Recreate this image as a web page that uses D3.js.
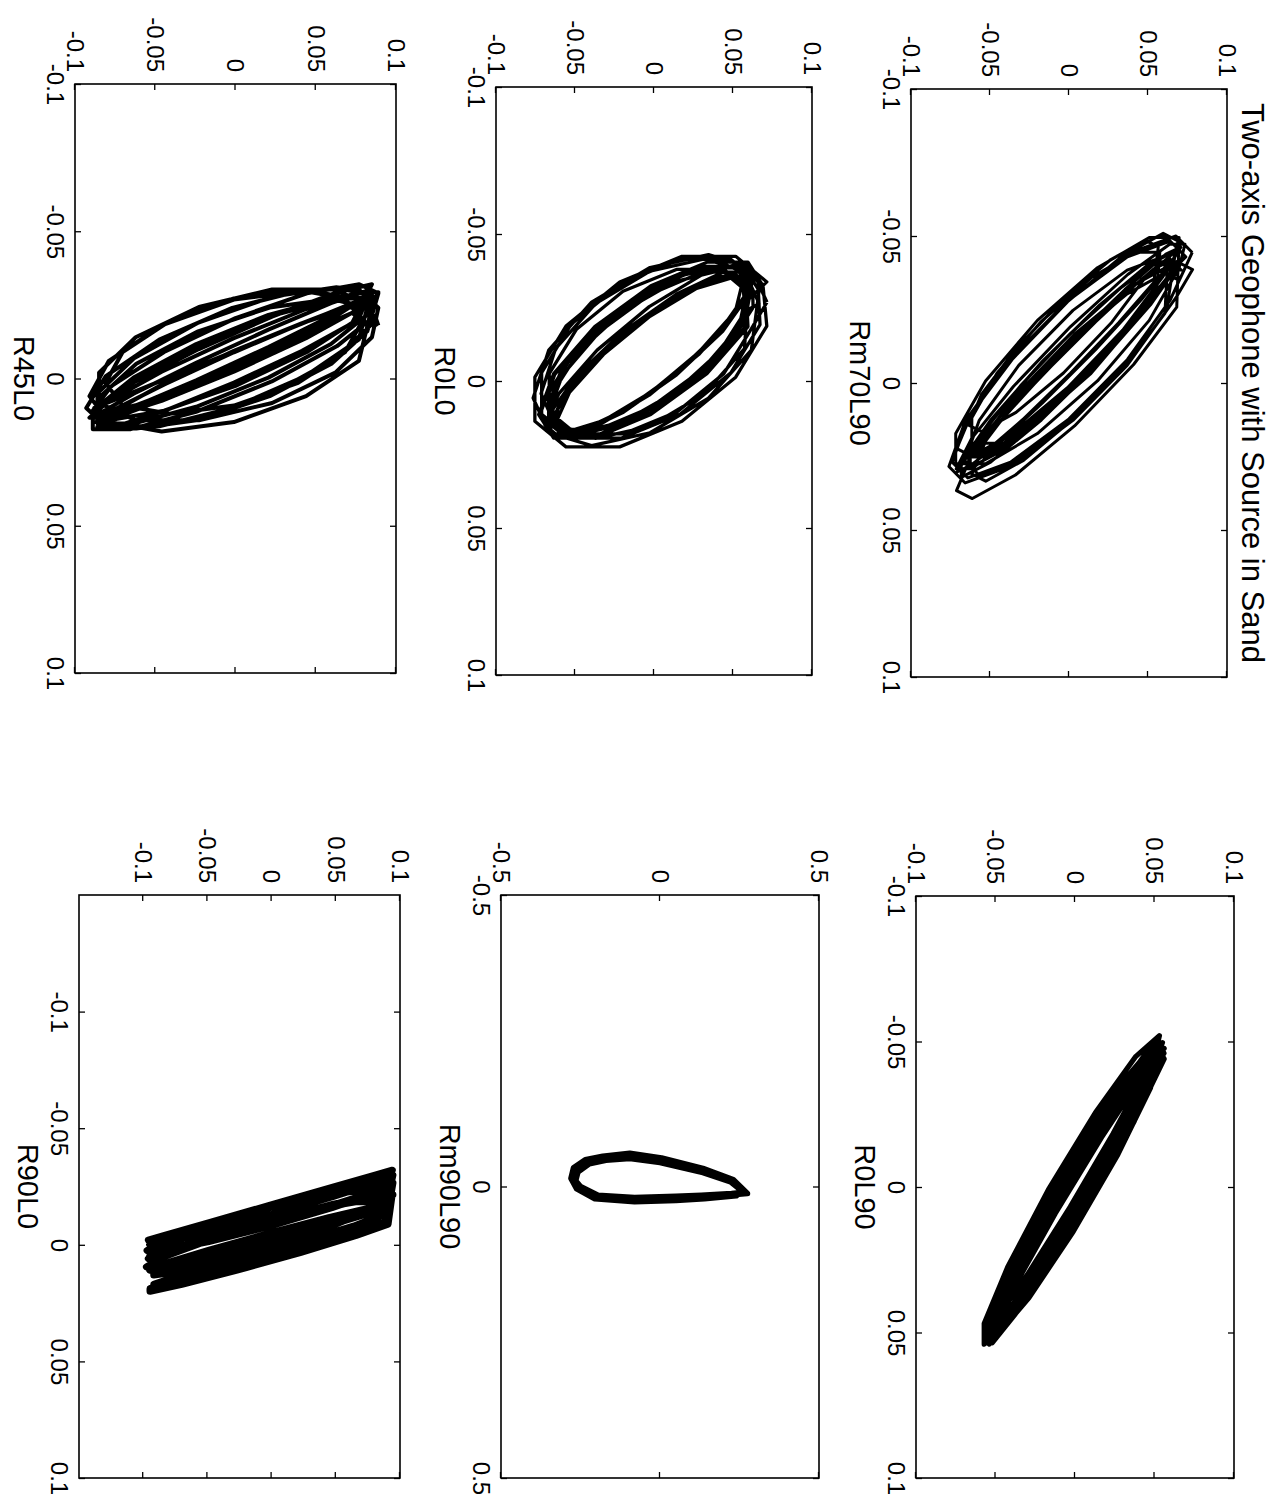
<!DOCTYPE html>
<html>
<head>
<meta charset="utf-8">
<script src="https://cdn.jsdelivr.net/npm/d3@7"></script>
<style>
  body { margin: 0; background: #fff; }
  svg { display: block; }
</style>
</head>
<body>
<svg id="fig" width="1275" height="1510"></svg>
<script>
// Two-axis geophone records: channel 1 (x) plotted against channel 2 (y).
// Each record is one continuous trace running through many cycles.

const titleText = "Two-axis Geophone with Source in Sand";

const ticks01 = [-0.1, -0.05, 0, 0.05, 0.1];
const tickLabels01 = ["-0.1", "-0.05", "0", "0.05", "0.1"];
const ticks05 = [-0.5, 0, 0.5];
const tickLabels05 = ["-0.5", "0", "0.5"];

// Rm70L90
const rm70l90_x = [
  -0.0444,-0.050,-0.0444,-0.029,-0.008,0.013,0.0284,0.034,0.0284,0.013,-0.008,-0.029,
  -0.0386,-0.0413,-0.0333,-0.0166,0.0043,0.0238,0.0366,0.0393,0.0313,0.0146,-0.0063,-0.0258,
  -0.0495,-0.0495,-0.0392,-0.0213,-0.0007,0.0172,0.0275,0.0275,0.0172,-0.0007,-0.0213,-0.0392,
  -0.0472,-0.0472,-0.0369,-0.0192,0.0012,0.0189,0.0292,0.0292,0.0189,0.0012,-0.0192,-0.0369,
  -0.0483,-0.0509,-0.0433,-0.0276,-0.008,0.0103,0.0223,0.0249,0.0173,0.0016,-0.018,-0.0363,
  -0.0462,-0.0438,-0.0318,-0.0134,0.0065,0.0224,0.0302,0.0278,0.0158,-0.0026,-0.0225,-0.0384,
  -0.0384,-0.0434,-0.0384,-0.0247,-0.006,0.0127,0.0264,0.0314,0.0264,0.0127,-0.006,-0.0247,
  -0.045,-0.040,-0.0265,-0.008,0.0105,0.024,0.029,0.024,0.0105,-0.008,-0.0265,-0.040,
  -0.035,-0.0374,-0.0303,-0.0157,0.0027,0.0197,0.031,0.0334,0.0263,0.0117,-0.0067,-0.0237,
  -0.0421,-0.0352,-0.0208,-0.0027,0.0143,0.0255,0.0281,0.0212,0.0068,-0.0113,-0.0283,-0.0395,
  -0.0412,-0.0412,-0.0323,-0.0169,0.0009,0.0163,0.0252,0.0252,0.0163,0.0009,-0.0169,-0.0323,
  -0.0445,-0.0445,-0.0358,-0.0207,-0.0033,0.0118,0.0205,0.0205,0.0118,-0.0033,-0.0207,-0.0358,
  -0.0409,-0.0388,-0.0285,-0.0126,0.0045,0.0182,0.0249,0.0228,0.0125,-0.0034,-0.0205,-0.0342,
  -0.0463,-0.0485,-0.042,-0.0286,-0.0117,0.004,0.0143,0.0165,0.010,-0.0034,-0.0203,-0.036,
  -0.0461,-0.0409,-0.0266,-0.007,0.0126,0.0269,0.0321,0.0269,0.0126,-0.007,-0.0266,-0.0409,
  -0.0429,-0.0483,-0.0429,-0.0282,-0.008,0.0122,0.0269,0.0323,0.0269,0.0122,-0.008,-0.0282,
  -0.0444
];
const rm70l90_y = [
  0.078,0.0677,0.0395,0.001,-0.0375,-0.0657,-0.076,-0.0657,-0.0375,0.001,0.0395,0.0677,
  0.0782,0.0682,0.0409,0.0035,-0.0339,-0.0612,-0.0712,-0.0612,-0.0339,0.0035,0.0409,0.0682,
  0.0697,0.0508,0.018,-0.020,-0.0528,-0.0717,-0.0717,-0.0528,-0.020,0.018,0.0508,0.0697,
  0.0734,0.0637,0.0372,0.001,-0.0352,-0.0617,-0.0714,-0.0617,-0.0352,0.001,0.0372,0.0637,
  0.069,0.0596,0.034,-0.001,-0.036,-0.0616,-0.071,-0.0616,-0.036,-0.001,0.034,0.0596,
  0.0708,0.0613,0.0354,0,-0.0354,-0.0613,-0.0708,-0.0613,-0.0354,0,0.0354,0.0613,
  0.071,0.0618,0.0368,0.0025,-0.0318,-0.0568,-0.066,-0.0568,-0.0318,0.0025,0.0368,0.0618,
  0.0675,0.0499,0.0196,-0.0156,-0.0459,-0.0635,-0.0635,-0.0459,-0.0156,0.0196,0.0499,0.0675,
  0.0695,0.0607,0.0368,0.004,-0.0288,-0.0527,-0.0615,-0.0527,-0.0288,0.004,0.0368,0.0607,
  0.0625,0.0457,0.0168,-0.0168,-0.0457,-0.0625,-0.0625,-0.0457,-0.0168,0.0168,0.0457,0.0625,
  0.0641,0.0556,0.0326,0.001,-0.0306,-0.0536,-0.0621,-0.0536,-0.0306,0.001,0.0326,0.0556,
  0.0575,0.0416,0.014,-0.018,-0.0456,-0.0615,-0.0615,-0.0456,-0.018,0.014,0.0416,0.0575,
  0.0618,0.0537,0.0314,0.001,-0.0294,-0.0517,-0.0598,-0.0517,-0.0294,0.001,0.0314,0.0537,
  0.0565,0.0485,0.0265,-0.0035,-0.0335,-0.0555,-0.0635,-0.0555,-0.0335,-0.0035,0.0265,0.0485,
  0.0702,0.0516,0.0195,-0.0175,-0.0496,-0.0682,-0.0682,-0.0496,-0.0175,0.0195,0.0516,0.0702,
  0.0739,0.064,0.037,0,-0.037,-0.064,-0.0739,-0.064,-0.037,0,0.037,0.064,
  0.078
];

// R0L90
const r0l90_x = [
  -0.0473,-0.0473,-0.0341,-0.0112,0.0152,0.0381,0.0513,0.0513,0.0381,0.0152,-0.0112,-0.0341,
  -0.047,-0.0404,-0.0225,0.002,0.0265,0.0444,0.051,0.0444,0.0265,0.002,-0.0225,-0.0404,
  -0.0475,-0.0444,-0.0288,-0.005,0.0208,0.0414,0.0515,0.0484,0.0328,0.009,-0.0168,-0.0374,
  -0.0467,-0.0374,-0.0178,0.0069,0.0299,0.0452,0.0487,0.0394,0.0198,-0.0049,-0.0279,-0.0432,
  -0.052,-0.0449,-0.0255,0.001,0.0275,0.0469,0.054,0.0469,0.0275,0.001,-0.0255,-0.0449,
  -0.0425,-0.0396,-0.0253,-0.0034,0.0203,0.0392,0.0485,0.0456,0.0313,0.0094,-0.0143,-0.0332,
  -0.0444,-0.0444,-0.0322,-0.0112,0.0132,0.0342,0.0464,0.0464,0.0342,0.0132,-0.0112,-0.0322,
  -0.0496,-0.0395,-0.0183,0.0083,0.0333,0.0499,0.0536,0.0435,0.0223,-0.0043,-0.0293,-0.0459,
  -0.046,-0.0393,-0.021,0.004,0.029,0.0473,0.054,0.0473,0.029,0.004,-0.021,-0.0393,
  -0.049,-0.0426,-0.025,-0.001,0.023,0.0406,0.047,0.0406,0.023,-0.001,-0.025,-0.0426,
  -0.0476,-0.0377,-0.0169,0.0092,0.0337,0.050,0.0536,0.0437,0.0229,-0.0032,-0.0277,-0.044,
  -0.0485,-0.0454,-0.0302,-0.0068,0.0184,0.0386,0.0485,0.0454,0.0302,0.0068,-0.0184,-0.0386,
  -0.0473
];
const r0l90_y = [
  0.055,0.0475,0.027,-0.001,-0.029,-0.0495,-0.057,-0.0495,-0.029,-0.001,0.027,0.0475,
  0.0512,0.0372,0.013,-0.015,-0.0392,-0.0532,-0.0532,-0.0392,-0.015,0.013,0.0372,0.0512,
  0.054,0.0466,0.0265,-0.001,-0.0285,-0.0486,-0.056,-0.0486,-0.0285,-0.001,0.0265,0.0466,
  0.0492,0.0358,0.0125,-0.0145,-0.0378,-0.0512,-0.0512,-0.0378,-0.0145,0.0125,0.0358,0.0492,
  0.0531,0.0383,0.0128,-0.0168,-0.0423,-0.0571,-0.0571,-0.0423,-0.0168,0.0128,0.0383,0.0531,
  0.050,0.0433,0.025,0,-0.025,-0.0433,-0.050,-0.0433,-0.025,0,0.025,0.0433,
  0.050,0.043,0.024,-0.002,-0.028,-0.047,-0.054,-0.047,-0.028,-0.002,0.024,0.043,
  0.055,0.040,0.014,-0.016,-0.042,-0.057,-0.057,-0.042,-0.016,0.014,0.040,0.055,
  0.056,0.0486,0.0285,0.001,-0.0265,-0.0466,-0.054,-0.0466,-0.0265,0.001,0.0285,0.0486,
  0.049,0.0419,0.0225,-0.004,-0.0305,-0.0499,-0.057,-0.0499,-0.0305,-0.004,0.0225,0.0419,
  0.0561,0.0416,0.0165,-0.0125,-0.0376,-0.0521,-0.0521,-0.0376,-0.0125,0.0165,0.0416,0.0561,
  0.051,0.0438,0.024,-0.003,-0.030,-0.0498,-0.057,-0.0498,-0.030,-0.003,0.024,0.0438,
  0.055
];

// R0L0
const r0l0_x = [
  -0.0268,-0.0386,-0.043,-0.0386,-0.0268,-0.0105,0.0058,0.0176,0.022,0.0176,0.0058,-0.0105,
  -0.0333,-0.0414,-0.0414,-0.0333,-0.0192,-0.0028,0.0113,0.0194,0.0194,0.0113,-0.0028,-0.0192,
  -0.0312,-0.039,-0.039,-0.0312,-0.0178,-0.0022,0.0112,0.019,0.019,0.0112,-0.0022,-0.0178,
  -0.0356,-0.0395,-0.0356,-0.025,-0.0105,0.004,0.0146,0.0185,0.0146,0.004,-0.0105,-0.025,
  -0.0311,-0.0385,-0.0385,-0.0311,-0.0184,-0.0036,0.0091,0.0165,0.0165,0.0091,-0.0036,-0.0184,
  -0.0328,-0.0365,-0.0328,-0.0228,-0.009,0.0048,0.0148,0.0185,0.0148,0.0048,-0.009,-0.0228,
  -0.0356,-0.0356,-0.0286,-0.0165,-0.0025,0.0096,0.0166,0.0166,0.0096,-0.0025,-0.0165,-0.0286,
  -0.0315,-0.035,-0.0315,-0.022,-0.009,0.004,0.0135,0.017,0.0135,0.004,-0.009,-0.022,
  -0.0337,-0.0424,-0.0424,-0.0337,-0.0187,-0.0013,0.0137,0.0224,0.0224,0.0137,-0.0013,-0.0187,
  -0.0324,-0.0404,-0.0404,-0.0324,-0.0185,-0.0025,0.0114,0.0194,0.0194,0.0114,-0.0025,-0.0185,
  -0.0338,-0.0375,-0.0338,-0.0238,-0.010,0.0038,0.0138,0.0175,0.0138,0.0038,-0.010,-0.0238,
  -0.0263,-0.0374,-0.0415,-0.0374,-0.0263,-0.011,0.0043,0.0154,0.0195,0.0154,0.0043,-0.011,
  -0.037,-0.037,-0.0296,-0.0169,-0.0021,0.0106,0.018,0.018,0.0106,-0.0021,-0.0169,-0.0296,
  -0.0296,-0.037,-0.037,-0.0296,-0.0169,-0.0021,0.0106,0.018,0.018,0.0106,-0.0021,-0.0169,
  -0.036,-0.040,-0.036,-0.0253,-0.0105,0.0043,0.015,0.019,0.015,0.0043,-0.0105,-0.0253,
  -0.0305,-0.038,-0.038,-0.0305,-0.0175,-0.0025,0.0105,0.018,0.018,0.0105,-0.0025,-0.0175,
  -0.0268
];
const r0l0_y = [
  0.0715,0.0616,0.0345,-0.0025,-0.0395,-0.0666,-0.0765,-0.0666,-0.0395,-0.0025,0.0345,0.0616,
  0.0671,0.0486,0.0165,-0.0205,-0.0526,-0.0711,-0.0711,-0.0526,-0.0205,0.0165,0.0486,0.0671,
  0.066,0.0568,0.0315,-0.003,-0.0375,-0.0628,-0.072,-0.0628,-0.0375,-0.003,0.0315,0.0568,
  0.0627,0.0454,0.0154,-0.0194,-0.0494,-0.0667,-0.0667,-0.0494,-0.0194,0.0154,0.0454,0.0627,
  0.0625,0.0538,0.030,-0.0025,-0.035,-0.0588,-0.0675,-0.0588,-0.035,-0.0025,0.030,0.0538,
  0.0595,0.0511,0.0283,-0.003,-0.0343,-0.0571,-0.0655,-0.0571,-0.0343,-0.003,0.0283,0.0511,
  0.0569,0.0411,0.0138,-0.0178,-0.0451,-0.0609,-0.0609,-0.0451,-0.0178,0.0138,0.0411,0.0569,
  0.0565,0.0486,0.027,-0.0025,-0.032,-0.0536,-0.0615,-0.0536,-0.032,-0.0025,0.027,0.0486,
  0.0714,0.0517,0.0177,-0.0217,-0.0557,-0.0754,-0.0754,-0.0557,-0.0217,0.0177,0.0517,0.0714,
  0.069,0.0595,0.0335,-0.002,-0.0375,-0.0635,-0.073,-0.0635,-0.0375,-0.002,0.0335,0.0595,
  0.0579,0.0415,0.0133,-0.0193,-0.0475,-0.0639,-0.0639,-0.0475,-0.0193,0.0133,0.0415,0.0579,
  0.0665,0.0573,0.032,-0.0025,-0.037,-0.0623,-0.0715,-0.0623,-0.037,-0.0025,0.032,0.0573,
  0.0603,0.0435,0.0143,-0.0193,-0.0485,-0.0653,-0.0653,-0.0485,-0.0193,0.0143,0.0435,0.0603,
  0.0625,0.0539,0.0303,-0.002,-0.0343,-0.0579,-0.0665,-0.0579,-0.0343,-0.002,0.0303,0.0539,
  0.063,0.0542,0.030,-0.003,-0.036,-0.0602,-0.069,-0.0602,-0.036,-0.003,0.030,0.0542,
  0.0613,0.0442,0.0146,-0.0196,-0.0492,-0.0663,-0.0663,-0.0492,-0.0196,0.0146,0.0442,0.0613,
  0.0715
];

// Rm90L90
const rm90l90_x = [
  0.010,-0.010,-0.027,-0.045,-0.052,-0.048,-0.042,-0.028,-0.012,0.002,0.018,0.022,0.020,0.018,0.014,
  0.012,-0.012,-0.031,-0.049,-0.057,-0.052,-0.046,-0.032,-0.014,0.004,0.021,0.026,0.024,0.021,0.016,
  0.008,-0.008,-0.024,-0.041,-0.048,-0.045,-0.039,-0.025,-0.010,0.000,0.015,0.019,0.017,0.015,0.012,
  0.010
];
const rm90l90_y = [
  0.265,0.225,0.135,0.000,-0.095,-0.175,-0.228,-0.265,-0.272,-0.255,-0.200,-0.080,0.050,0.135,0.230,
  0.275,0.230,0.135,0.005,-0.095,-0.180,-0.235,-0.272,-0.280,-0.262,-0.205,-0.080,0.050,0.140,0.240,
  0.258,0.222,0.135,0.000,-0.095,-0.170,-0.222,-0.258,-0.265,-0.250,-0.195,-0.080,0.050,0.130,0.225,
  0.265
];

// R45L0
const r45l0_x = [
  -0.018,-0.0268,-0.030,-0.0268,-0.018,-0.006,0.006,0.0148,0.018,0.0148,0.006,-0.006,
  -0.0243,-0.0302,-0.0302,-0.0243,-0.014,-0.002,0.0083,0.0142,0.0142,0.0083,-0.002,-0.014,
  -0.024,-0.0302,-0.0302,-0.024,-0.0132,-0.0008,0.010,0.0162,0.0162,0.010,-0.0008,-0.0132,
  -0.0241,-0.027,-0.0241,-0.016,-0.005,0.006,0.0141,0.017,0.0141,0.006,-0.005,-0.016,
  -0.0289,-0.032,-0.0289,-0.0205,-0.009,0.0025,0.0109,0.014,0.0109,0.0025,-0.009,-0.0205,
  -0.0273,-0.0273,-0.0216,-0.0117,-0.0003,0.0096,0.0153,0.0153,0.0096,-0.0003,-0.0117,-0.0216,
  -0.0243,-0.0243,-0.0188,-0.0094,0.0014,0.0108,0.0163,0.0163,0.0108,0.0014,-0.0094,-0.0188,
  -0.032,-0.0291,-0.021,-0.010,0.001,0.0091,0.012,0.0091,0.001,-0.010,-0.021,-0.0291,
  -0.0268,-0.0255,-0.0189,-0.0089,0.0019,0.0105,0.0148,0.0135,0.0069,-0.0031,-0.0139,-0.0225,
  -0.0298,-0.0256,-0.0166,-0.0053,0.0052,0.0123,0.0138,0.0096,0.0006,-0.0107,-0.0212,-0.0283,
  -0.025,-0.0223,-0.015,-0.005,0.005,0.0123,0.015,0.0123,0.005,-0.005,-0.015,-0.0223,
  -0.0195,-0.0272,-0.030,-0.0272,-0.0195,-0.009,0.0015,0.0092,0.012,0.0092,0.0015,-0.009,
  -0.0293,-0.0293,-0.0236,-0.0137,-0.0023,0.0076,0.0133,0.0133,0.0076,-0.0023,-0.0137,-0.0236,
  -0.0278,-0.031,-0.0278,-0.019,-0.007,0.005,0.0138,0.017,0.0138,0.005,-0.007,-0.019,
  -0.028,-0.0255,-0.0185,-0.009,0.0005,0.0075,0.010,0.0075,0.0005,-0.009,-0.0185,-0.0255,
  -0.0272,-0.0272,-0.0213,-0.011,0.001,0.0113,0.0172,0.0172,0.0113,0.001,-0.011,-0.0213,
  -0.018
];
const r45l0_y = [
  0.089,0.0769,0.044,-0.001,-0.046,-0.0789,-0.091,-0.0789,-0.046,-0.001,0.044,0.0769,
  0.085,0.0622,0.0228,-0.0228,-0.0622,-0.085,-0.085,-0.0622,-0.0228,0.0228,0.0622,0.085,
  0.089,0.0768,0.0435,-0.002,-0.0475,-0.0808,-0.093,-0.0808,-0.0475,-0.002,0.0435,0.0768,
  0.0821,0.0598,0.0213,-0.0233,-0.0618,-0.0841,-0.0841,-0.0618,-0.0233,0.0213,0.0598,0.0821,
  0.089,0.0771,0.0445,0,-0.0445,-0.0771,-0.089,-0.0771,-0.0445,0,0.0445,0.0771,
  0.082,0.0595,0.0205,-0.0245,-0.0635,-0.086,-0.086,-0.0635,-0.0245,0.0205,0.0595,0.082,
  0.084,0.0726,0.0415,-0.001,-0.0435,-0.0746,-0.086,-0.0746,-0.0435,-0.001,0.0415,0.0726,
  0.085,0.0622,0.0228,-0.0228,-0.0622,-0.085,-0.085,-0.0622,-0.0228,0.0228,0.0622,0.085,
  0.085,0.0735,0.042,-0.001,-0.044,-0.0755,-0.087,-0.0755,-0.044,-0.001,0.042,0.0735,
  0.082,0.0595,0.0205,-0.0245,-0.0635,-0.086,-0.086,-0.0635,-0.0245,0.0205,0.0595,0.082,
  0.084,0.0727,0.042,0,-0.042,-0.0727,-0.084,-0.0727,-0.042,0,0.042,0.0727,
  0.079,0.0683,0.039,-0.001,-0.041,-0.0703,-0.081,-0.0703,-0.041,-0.001,0.039,0.0683,
  0.089,0.0769,0.044,-0.001,-0.046,-0.0789,-0.091,-0.0789,-0.046,-0.001,0.044,0.0769,
  0.086,0.0629,0.0231,-0.0231,-0.0629,-0.086,-0.086,-0.0629,-0.0231,0.0231,0.0629,0.086,
  0.084,0.0725,0.041,-0.002,-0.045,-0.0765,-0.088,-0.0765,-0.045,-0.002,0.041,0.0725,
  0.0869,0.0633,0.0226,-0.0246,-0.0653,-0.0889,-0.0889,-0.0653,-0.0246,0.0226,0.0633,0.0869,
  0.089
];

// R90L0
const r90l0_x = [
  -0.0219,-0.024,-0.0219,-0.016,-0.008,0,0.0059,0.008,0.0059,0,-0.008,-0.016,
  -0.0185,-0.0185,-0.0146,-0.0079,-0.0001,0.0066,0.0105,0.0105,0.0066,-0.0001,-0.0079,-0.0146,
  -0.0265,-0.0265,-0.0226,-0.0159,-0.0081,-0.0014,0.0025,0.0025,-0.0014,-0.0081,-0.0159,-0.0226,
  -0.015,-0.0131,-0.008,-0.001,0.006,0.0111,0.013,0.0111,0.006,-0.001,-0.008,-0.0131,
  -0.0299,-0.0289,-0.0242,-0.0171,-0.0094,-0.0032,-0.0001,-0.0011,-0.0058,-0.0129,-0.0206,-0.0268,
  -0.0099,-0.0072,-0.0015,0.0057,0.0124,0.0169,0.0179,0.0152,0.0095,0.0023,-0.0044,-0.0089,
  -0.023,-0.0211,-0.016,-0.009,-0.002,0.0031,0.005,0.0031,-0.002,-0.009,-0.016,-0.0211,
  -0.0215,-0.0215,-0.0173,-0.0101,-0.0019,0.0053,0.0095,0.0095,0.0053,-0.0019,-0.0101,-0.0173,
  -0.028,-0.026,-0.0205,-0.013,-0.0055,0,0.002,0,-0.0055,-0.013,-0.0205,-0.026,
  -0.0169,-0.016,-0.0116,-0.0049,0.0023,0.008,0.0109,0.010,0.0056,-0.0011,-0.0083,-0.014,
  -0.032,-0.030,-0.0245,-0.017,-0.0095,-0.004,-0.002,-0.004,-0.0095,-0.017,-0.0245,-0.030,
  -0.0099,-0.007,-0.0009,0.0068,0.014,0.0188,0.0199,0.017,0.0109,0.0032,-0.004,-0.0088,
  -0.0219
];
const r90l0_y = [
  0.094,0.0813,0.0465,-0.001,-0.0485,-0.0833,-0.096,-0.0833,-0.0485,-0.001,0.0465,0.0813,
  0.0908,0.0665,0.0243,-0.0243,-0.0665,-0.0908,-0.0908,-0.0665,-0.0243,0.0243,0.0665,0.0908,
  0.0945,0.0821,0.047,-0.001,-0.049,-0.0841,-0.097,-0.0841,-0.049,-0.001,0.047,0.0821,
  0.0878,0.0638,0.0221,-0.0261,-0.0678,-0.0918,-0.0918,-0.0678,-0.0261,0.0221,0.0638,0.0878,
  0.0945,0.0823,0.0475,0,-0.0475,-0.0823,-0.095,-0.0823,-0.0475,0,0.0475,0.0823,
  0.0898,0.0655,0.0233,-0.0253,-0.0675,-0.0918,-0.0918,-0.0675,-0.0253,0.0233,0.0655,0.0898,
  0.093,0.0804,0.046,-0.001,-0.048,-0.0824,-0.095,-0.0824,-0.048,-0.001,0.046,0.0804,
  0.0945,0.083,0.0475,-0.001,-0.0495,-0.085,-0.0975,-0.085,-0.0495,-0.001,0.0475,0.083,
  0.0918,0.0672,0.0246,-0.0246,-0.0672,-0.0918,-0.0918,-0.0672,-0.0246,0.0246,0.0672,0.0918,
  0.091,0.0785,0.0445,-0.002,-0.0485,-0.0825,-0.095,-0.0825,-0.0485,-0.002,0.0445,0.0785,
  0.094,0.0813,0.0465,-0.001,-0.0485,-0.0833,-0.096,-0.0833,-0.0485,-0.001,0.0465,0.0813,
  0.0907,0.0659,0.0229,-0.0269,-0.0699,-0.0947,-0.0947,-0.0699,-0.0269,0.0229,0.0659,0.0907,
  0.094
];

// ---- layout: the page is printed in landscape, so every axes is turned a quarter
// turn clockwise. box = [left, top, right, bottom] of the frame on the page.
const FONT = "'Liberation Sans', Arial, Helvetica, sans-serif";
const TICK_FONT = 24, LABEL_FONT = 29, TITLE_FONT = 31;

const panels = [
  { name: "Rm70L90", xs: rm70l90_x, ys: rm70l90_y, xDom: [-0.1, 0.1], yDom: [-0.1, 0.1],
    xt: ticks01, xl: tickLabels01, yt: ticks01, yl: tickLabels01, box: [911, 89, 1227, 677], lw: 3.0, title: true },
  { name: "R0L90", xs: r0l90_x, ys: r0l90_y, xDom: [-0.1, 0.1], yDom: [-0.1, 0.1],
    xt: ticks01, xl: tickLabels01, yt: ticks01, yl: tickLabels01, box: [916, 896, 1234, 1478], lw: 5.2 },
  { name: "R0L0", xs: r0l0_x, ys: r0l0_y, xDom: [-0.1, 0.1], yDom: [-0.1, 0.1],
    xt: ticks01, xl: tickLabels01, yt: ticks01, yl: tickLabels01, box: [496, 87, 812, 675], lw: 3.3 },
  { name: "Rm90L90", xs: rm90l90_x, ys: rm90l90_y, xDom: [-0.5, 0.5], yDom: [-0.5, 0.5],
    xt: ticks05, xl: tickLabels05, yt: ticks05, yl: tickLabels05, box: [501, 895, 819, 1478], lw: 5.6 },
  { name: "R45L0", xs: r45l0_x, ys: r45l0_y, xDom: [-0.1, 0.1], yDom: [-0.1, 0.1],
    xt: ticks01, xl: tickLabels01, yt: ticks01, yl: tickLabels01, box: [75, 84, 396, 673], lw: 4.0 },
  { name: "R90L0", xs: r90l0_x, ys: r90l0_y, xDom: [-0.15, 0.1], yDom: [-0.15, 0.1],
    xt: ticks01, xl: tickLabels01, yt: ticks01, yl: tickLabels01, box: [79, 895, 400, 1478], lw: 7.0 }
];

const svg = d3.select("#fig");
svg.append("rect").attr("width", 1275).attr("height", 1510).attr("fill", "#fff");

function styleAxis(sel) {
  sel.select(".domain").remove();
  sel.attr("font-family", FONT).attr("font-size", TICK_FONT);
  sel.selectAll("line").attr("stroke", "#000").attr("stroke-width", 1.3);
  sel.selectAll("text").attr("fill", "#000");
}

panels.forEach((p, idx) => {
  const [xL, yT, xR, yB] = p.box;
  const w = yB - yT;   // width of the axes in its own (unturned) frame
  const h = xR - xL;   // height of the axes in its own frame
  const g = svg.append("g").attr("transform", `translate(${xR},${yT}) rotate(90)`);

  const x = d3.scaleLinear().domain(p.xDom).range([0, w]);
  const y = d3.scaleLinear().domain(p.yDom).range([h, 0]);
  const lab = (vals, labels) => d => labels[vals.indexOf(d)];

  const clipId = "clip" + idx;
  g.append("clipPath").attr("id", clipId)
    .append("rect").attr("width", w).attr("height", h);

  const line = d3.line()
    .x(i => x(p.xs[i]))
    .y(i => y(p.ys[i]));

  g.append("path")
    .datum(d3.range(p.xs.length))
    .attr("clip-path", `url(#${clipId})`)
    .attr("d", line)
    .attr("fill", "none")
    .attr("stroke", "#000")
    .attr("stroke-width", p.lw)
    .attr("stroke-linejoin", "round");

  // labelled axes (bottom / left), inward ticks
  g.append("g").attr("transform", `translate(0,${h})`)
    .call(d3.axisBottom(x).tickValues(p.xt).tickFormat(lab(p.xt, p.xl))
      .tickSizeInner(-6).tickSizeOuter(0).tickPadding(11))
    .call(styleAxis);
  g.append("g")
    .call(d3.axisLeft(y).tickValues(p.yt).tickFormat(lab(p.yt, p.yl))
      .tickSizeInner(-6).tickSizeOuter(0).tickPadding(12))
    .call(styleAxis);
  // mirrored ticks on top / right
  g.append("g")
    .call(d3.axisTop(x).tickValues(p.xt).tickFormat(() => "").tickSizeInner(-6).tickSizeOuter(0))
    .call(styleAxis);
  g.append("g").attr("transform", `translate(${w},0)`)
    .call(d3.axisRight(y).tickValues(p.yt).tickFormat(() => "").tickSizeInner(-6).tickSizeOuter(0))
    .call(styleAxis);

  // frame
  g.append("rect").attr("width", w).attr("height", h)
    .attr("fill", "none").attr("stroke", "#000").attr("stroke-width", 1.6);

  // axis label
  g.append("text")
    .attr("x", w / 2).attr("y", h + 61)
    .attr("text-anchor", "middle")
    .attr("font-family", FONT).attr("font-size", LABEL_FONT)
    .text(p.name);

  if (p.title) {
    g.append("text")
      .attr("x", w / 2).attr("y", -15)
      .attr("text-anchor", "middle")
      .attr("font-family", FONT).attr("font-size", TITLE_FONT)
      .text(titleText);
  }
});
</script>
</body>
</html>
